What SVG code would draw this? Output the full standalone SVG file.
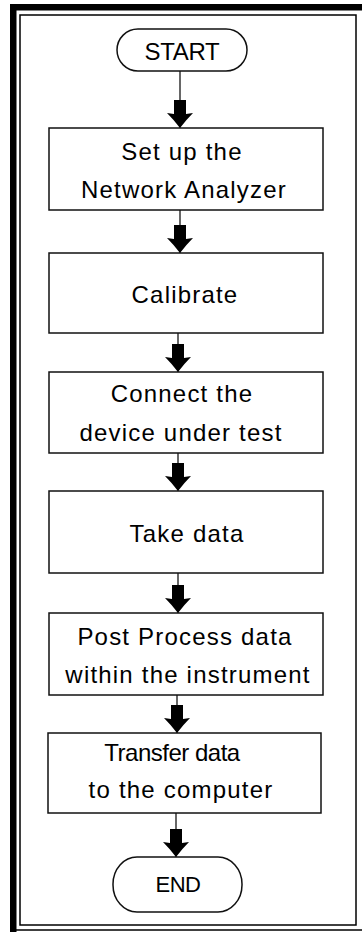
<svg xmlns="http://www.w3.org/2000/svg" width="362" height="932" viewBox="0 0 362 932">
<style>
.frame{fill:none;stroke:#000;stroke-width:1.5}
.band{fill:#000}
.box{fill:#fff;stroke:#111;stroke-width:1.5}
.t{font-family:"Liberation Sans",Arial,sans-serif;font-size:24px;fill:#000;text-anchor:middle;letter-spacing:1.2px}
.c{stroke:#000;stroke-width:1.2;fill:none;marker-end:url(#ah)}
</style>
<defs>
<marker id="ah" markerUnits="userSpaceOnUse" markerWidth="30" markerHeight="28" refX="28" refY="13" orient="auto" overflow="visible">
<path d="M0,7 L14,7 L13,0 Q20,7 28,13 Q20,19 13,26 L14,19 L0,19 Z" fill="#000"/>
</marker>
</defs>
<rect width="362" height="932" fill="#fff"/>
<g id="frame">
<rect class="band" x="10" y="4" width="352" height="6.5"/>
<rect class="band" x="10" y="4" width="6.5" height="928"/>
<rect class="frame" x="20" y="15" width="336" height="910"/>
<line class="frame" x1="10" y1="930" x2="362" y2="930"/>
</g>
<g id="connectors">
<line class="c" x1="180" y1="71" x2="180" y2="128"/>
<line class="c" x1="180" y1="210" x2="180" y2="253"/>
<line class="c" x1="178" y1="333" x2="178" y2="372"/>
<line class="c" x1="178" y1="453" x2="178" y2="491"/>
<line class="c" x1="178" y1="573" x2="178" y2="613"/>
<line class="c" x1="177" y1="695" x2="177" y2="733"/>
<line class="c" x1="176" y1="813" x2="176" y2="857"/>
</g>
<g id="start">
<rect class="box" x="117" y="29" width="130" height="42" rx="21" ry="21"/>
<text class="t" x="182" y="60" style="letter-spacing:-0.3px">START</text>
</g>
<g id="setup">
<rect class="box" x="49" y="128" width="274" height="82"/>
<text class="t" x="182" y="160">Set up the</text>
<text class="t" x="184" y="198">Network Analyzer</text>
</g>
<g id="calibrate">
<rect class="box" x="49" y="253" width="274" height="80"/>
<text class="t" x="185" y="303">Calibrate</text>
</g>
<g id="connect">
<rect class="box" x="49" y="372" width="274" height="81"/>
<text class="t" x="182" y="402">Connect the</text>
<text class="t" x="181" y="441">device under test</text>
</g>
<g id="take">
<rect class="box" x="49" y="491" width="274" height="82"/>
<text class="t" x="187" y="542">Take data</text>
</g>
<g id="post">
<rect class="box" x="49" y="613" width="274" height="82"/>
<text class="t" x="185" y="645">Post Process data</text>
<text class="t" x="188" y="683">within the instrument</text>
</g>
<g id="transfer">
<rect class="box" x="48" y="733" width="273" height="80"/>
<text class="t" x="172" y="761" style="letter-spacing:-0.5px">Transfer data</text>
<text class="t" x="181" y="798">to the computer</text>
</g>
<g id="end">
<rect class="box" x="113" y="857" width="129" height="55" rx="24" ry="27"/>
<text class="t" x="178" y="892" style="font-size:22px;letter-spacing:-0.5px">END</text>
</g>
</svg>
